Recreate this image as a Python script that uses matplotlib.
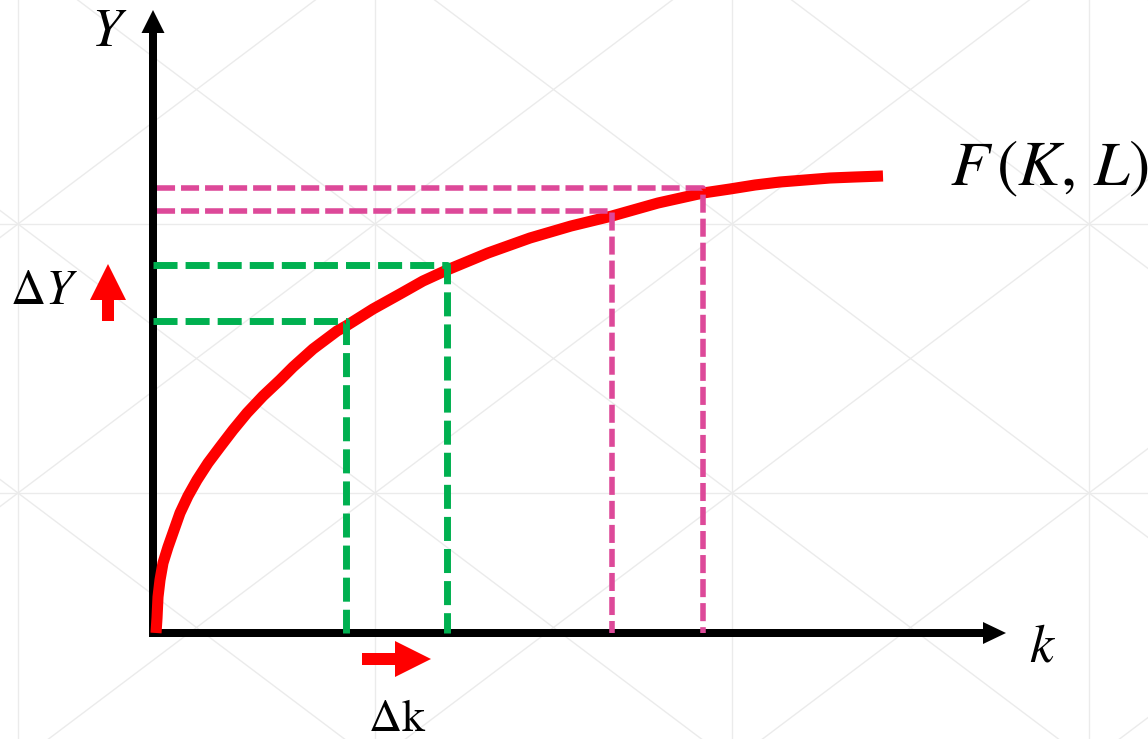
import matplotlib
matplotlib.use('agg')
import matplotlib.pyplot as plt
from matplotlib.patches import FancyArrow

# production curve (origin of the diagram at 0,0)
curve_k = [3, 4, 5, 7, 10, 15, 21, 27, 35, 44, 55, 67, 80, 94, 110, 127, 140, 160,
           184, 193, 220, 247, 270, 294, 335, 377, 418, 459, 505, 550, 577, 602,
           627, 652, 677, 702, 730]
curve_y = [0, 15, 36, 53, 70, 86, 103, 120, 137, 153, 170, 186, 203, 220, 237, 253, 266, 284,
           302, 307, 324, 339, 352, 363, 380, 395, 407, 417, 430, 440, 444, 448,
           451, 453, 455, 456, 457]

# dashed guides
green_k = [193, 294]
green_y = [312, 368]
pink_k = [459, 550]
pink_y = [422, 445]

RED = '#ff0000'
GREEN = '#00b050'
PINK = '#dd4999'
GRID = '#ebebeb'

plt.rcParams['mathtext.fontset'] = 'stix'
plt.rcParams['lines.scale_dashes'] = False


def draw_watermark(fig):
    bg = fig.add_axes([0, 0, 1, 1])
    bg.set_xlim(0, 1148)
    bg.set_ylim(739, 0)
    bg.axis('off')
    xs = [18 + 357 * i for i in range(-1, 5)]
    ys = [-45 + 269 * i for i in range(0, 4)]
    for x in xs:
        bg.axvline(x, color=GRID, lw=1)
    for y in ys:
        bg.axhline(y, color=GRID, lw=1)
    for i in range(len(xs) - 1):
        for j in range(len(ys) - 1):
            bg.plot([xs[i], xs[i + 1]], [ys[j], ys[j + 1]], color=GRID, lw=1)
            bg.plot([xs[i], xs[i + 1]], [ys[j + 1], ys[j]], color=GRID, lw=1)


def get_plot():
    fig = plt.figure(figsize=(11.48, 7.39), dpi=100)
    fig.patch.set_facecolor('white')
    draw_watermark(fig)

    ax = fig.add_axes([0, 0, 1, 1])
    ax.patch.set_alpha(0)
    ax.set_xlim(-153, 995)
    ax.set_ylim(-106, 633)
    ax.axis('off')

    # axes with arrow heads
    ax.add_patch(FancyArrow(0, -4, 0, 627, width=8, head_width=23, head_length=23,
                            length_includes_head=True, color='black', lw=0, zorder=2))
    ax.add_patch(FancyArrow(-4, 0, 857, 0, width=8, head_width=22, head_length=23,
                            length_includes_head=True, color='black', lw=0, zorder=2))

    ax.plot(curve_k, curve_y, color=RED, lw=8, solid_capstyle='butt',
            solid_joinstyle='round', zorder=3)

    for k, y in zip(green_k, green_y):
        ax.plot([0, k, k], [y, y, 0], color=GREEN, lw=5, dashes=(17.3, 5.8), zorder=4)
    for k, y in zip(pink_k, pink_y):
        ax.plot([4, k, k], [y, y, 0], color=PINK, lw=4, dashes=(13, 4.3), zorder=4)

    # small red arrows for the changes
    ax.add_patch(FancyArrow(-45, 312, 0, 57, width=12, head_width=36, head_length=36,
                            length_includes_head=True, color=RED, lw=0))
    ax.add_patch(FancyArrow(209, -26, 69, 0, width=12, head_width=36, head_length=36,
                            length_includes_head=True, color=RED, lw=0))

    ax.text(-44, 602, r'$Y$', fontsize=39, ha='center', va='center')
    ax.text(797, 465, r'$F\,(K,\,L)$', fontsize=46, ha='left', va='center')
    ax.text(-109, 343, r'$\Delta Y$', fontsize=35, ha='center', va='center')
    ax.text(244, -98, r'$\Delta\mathrm{k}$', fontsize=33, ha='center', va='baseline')
    ax.text(889, -13, r'$k$', fontsize=39, ha='center', va='center')

    fig.savefig('out.png', dpi=100)


get_plot()
